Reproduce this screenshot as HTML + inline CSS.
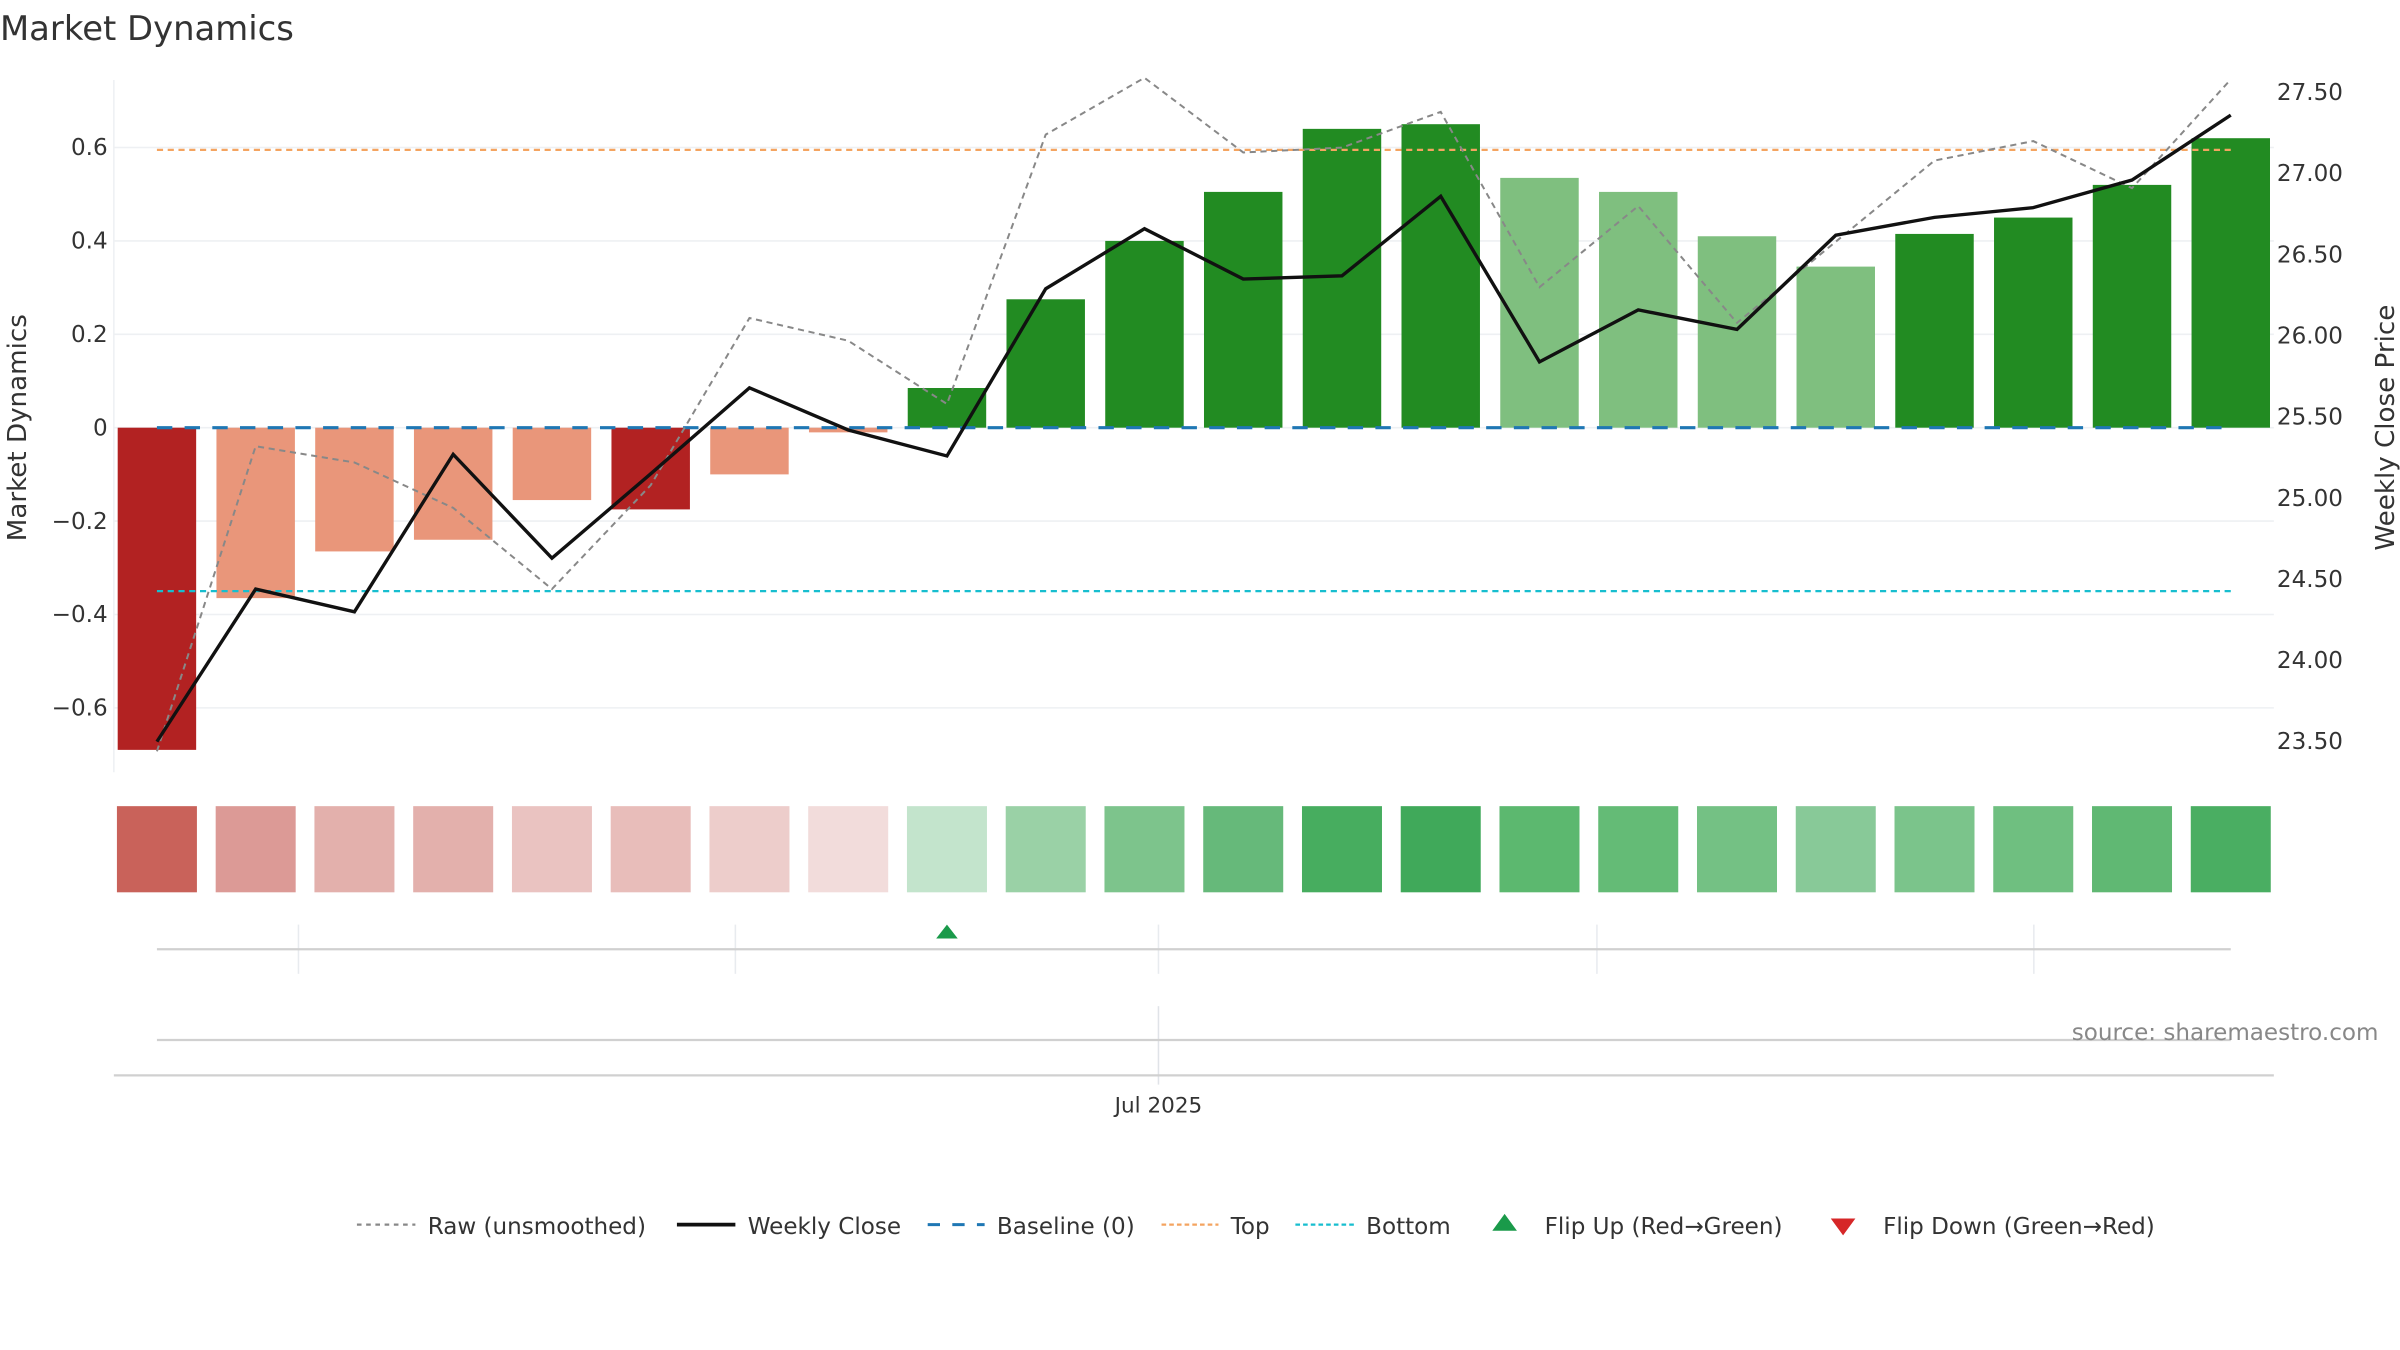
<!DOCTYPE html>
<html><head><meta charset="utf-8"><style>
html,body{margin:0;padding:0;background:#fff;}
svg{display:block;font-family:"DejaVu Sans","Liberation Sans",sans-serif;}
</style></head><body>
<svg id="chart" width="2400" height="1350" viewBox="0 0 1560 877.5" xmlns="http://www.w3.org/2000/svg">
<text x="0" y="26" font-size="22" fill="#333">Market Dynamics</text>
<g id="grid"></g>
<g id="bars"></g>
<g id="refs"></g>
<g id="lines"></g>
<g id="axes"></g>
<g id="heat"></g>
<g id="nav"></g>
<text transform="translate(17,278) rotate(-90)" text-anchor="middle" font-size="17" fill="#333">Market Dynamics</text>
<text transform="translate(1556,278) rotate(-90)" text-anchor="middle" font-size="17" fill="#333">Weekly Close Price</text>
<text x="1546" y="676" text-anchor="end" font-size="15" fill="#888">source: sharemaestro.com</text>
<g id="legend"></g>
</svg>
<script>
const dynamics = [-0.69,-0.365,-0.265,-0.24,-0.155,-0.175,-0.10,-0.01,0.085,0.275,0.40,0.505,0.64,0.65,0.535,0.505,0.41,0.345,0.415,0.45,0.52,0.62];
const strongFlags = [1,0,0,0,0,1,0,0,1,1,1,1,1,1,0,0,0,0,1,1,1,1];
const weeklyClose = [23.49,24.43,24.29,25.26,24.62,25.14,25.67,25.41,25.25,26.28,26.65,26.34,26.36,26.85,25.83,26.15,26.03,26.61,26.72,26.78,26.95,27.35];
const rawClose = [23.43,25.31,25.21,24.93,24.43,25.07,26.10,25.96,25.57,27.23,27.58,27.12,27.15,27.37,26.29,26.79,26.07,26.57,27.07,27.19,26.90,27.57];
const heatColors = ["#c9625a","#dc9a96","#e3b0ac","#e3b0ac","#eac3c1","#e8bdba","#edcdcb","#f2dcdb","#c3e4cc","#9ad1a6","#7dc48c","#66b97a","#47ad5f","#40a95a","#5cb86f","#64bb76","#74c184","#88c998","#7bc48b","#6fbf80","#60b873","#4aae62"];
const flipUpIdx = [8];
const leftTicks = [-0.6,-0.4,-0.2,0,0.2,0.4,0.6];
const leftTickLabels = ["\u22120.6","\u22120.4","\u22120.2","0","0.2","0.4","0.6"];
const rightTicks = [23.5,24,24.5,25,25.5,26,26.5,27,27.5];
const topLevel = 0.595, bottomLevel = -0.35;

const NS="http://www.w3.org/2000/svg";
function mk(parent,tag,attrs){const e=document.createElementNS(NS,tag);for(const k in attrs)e.setAttribute(k,attrs[k]);document.getElementById(parent).appendChild(e);return e;}
const x0=102, step=(1450-102)/21, bw=51;
const xS=i=>x0+i*step;
const yL=v=>278-v*303.5;
const yR=p=>59+(27.5-p)*105.5;

// grid
leftTicks.forEach((t,i)=>{
  const g=mk('grid','line',{x1:74,x2:1478,y1:yL(t),y2:yL(t),stroke:'#eef0f3','stroke-width':1});
  
  
  const tx=mk('axes','text',{x:70,y:yL(t)+5,'text-anchor':'end','font-size':15,fill:'#333'});
  
  
  tx.textContent=leftTickLabels[i];
});
rightTicks.forEach(t=>{
  const tx=mk('axes','text',{x:1480,y:yR(t)+6,'font-size':15,fill:'#333'});
  
  
  tx.textContent=t.toFixed(2);
});
const ax=mk('axes','line',{x1:74,x2:74,y1:52,y2:502,stroke:'#eef0f3'});



// bars
dynamics.forEach((v,i)=>{
  const neg=v<0;
  const col=neg?(strongFlags[i]?'#b22222':'#e9967a'):(strongFlags[i]?'#228b22':'#7fbf7f');
  const y=Math.min(yL(0),yL(v)), h=Math.abs(yL(v)-yL(0));
  const r=mk('bars','rect',{x:xS(i)-bw/2,y:y,width:bw,height:h,fill:col});
  
  
});

// reference lines
const bl=mk('refs','line',{x1:102,x2:1450,y1:yL(0),y2:yL(0),stroke:'#1f77b4','stroke-width':2,'stroke-dasharray':'10,8'});


const tl=mk('refs','line',{x1:102,x2:1450,y1:yL(topLevel),y2:yL(topLevel),stroke:'#f4a460','stroke-width':1.5,'stroke-dasharray':'4,3'});


const bt=mk('refs','line',{x1:102,x2:1450,y1:yL(bottomLevel),y2:yL(bottomLevel),stroke:'#17becf','stroke-width':1.5,'stroke-dasharray':'4,3'});



// lines
const raw=mk('lines','polyline',{points:rawClose.map((p,i)=>xS(i)+','+Math.max(50,yR(p))).join(' '),fill:'none',stroke:'#888','stroke-width':1.3,'stroke-dasharray':'4,3'});


const wc=mk('lines','polyline',{points:weeklyClose.map((p,i)=>xS(i)+','+yR(p)).join(' '),fill:'none',stroke:'#111','stroke-width':2.2});



// heat strip
heatColors.forEach((c,i)=>{
  const r=mk('heat','rect',{x:xS(i)-26,y:524,width:52,height:56,fill:c});
  
  
});

// navigator
[194,478,753,1038,1322].forEach(x=>{
  const l=mk('nav','line',{x1:x,x2:x,y1:601,y2:633,stroke:'#e8ebef'});
  
  
});
const n1=mk('nav','line',{x1:102,x2:1450,y1:617,y2:617,stroke:'#d0d0d0','stroke-width':1.5});


flipUpIdx.forEach(i=>{
  const t=mk('nav','polygon',{points:`${xS(i)-7},610 ${xS(i)+7},610 ${xS(i)},601`,fill:'#1a9a4a'});
  
  
});
const n2=mk('nav','line',{x1:753,x2:753,y1:654,y2:705,stroke:'#e0e3e8'});


const n3=mk('nav','line',{x1:102,x2:1450,y1:676,y2:676,stroke:'#d0d0d0','stroke-width':1.5});


const n4=mk('nav','line',{x1:74,x2:1478,y1:699,y2:699,stroke:'#d0d0d0','stroke-width':1.5});


const jt=mk('nav','text',{x:753,y:723,'text-anchor':'middle','font-size':14,fill:'#333'});


jt.textContent='Jul 2025';

// legend
function legText(x,t){const e=mk('legend','text',{x:x,y:802,'font-size':15,fill:'#333'});e.textContent=t;}
function legLine(x1,x2,stroke,w,dash,name){const e=mk('legend','line',{x1:x1,x2:x2,y1:796,y2:796,stroke:stroke,'stroke-width':w,'stroke-dasharray':dash});}
legLine(232,270,'#888',1.5,'3,3','legend-raw');legText(278,'Raw (unsmoothed)');
legLine(440,478,'#111',2.5,'none','legend-weekly-close');legText(486,'Weekly Close');
legLine(603,640,'#1f77b4',2,'8,8','legend-baseline');legText(648,'Baseline (0)');
legLine(755,792,'#f4a460',1.5,'3,2','legend-top');legText(800,'Top');
legLine(842,880,'#17becf',1.5,'3,2','legend-bottom');legText(888,'Bottom');
let tu=mk('legend','polygon',{points:'970,800 986,800 978,789',fill:'#1a9a4a'});


legText(1004,'Flip Up (Red\u2192Green)');
let td=mk('legend','polygon',{points:'1190,792 1206,792 1198,803',fill:'#d62728'});


legText(1224,'Flip Down (Green\u2192Red)');
</script>
</body></html>
